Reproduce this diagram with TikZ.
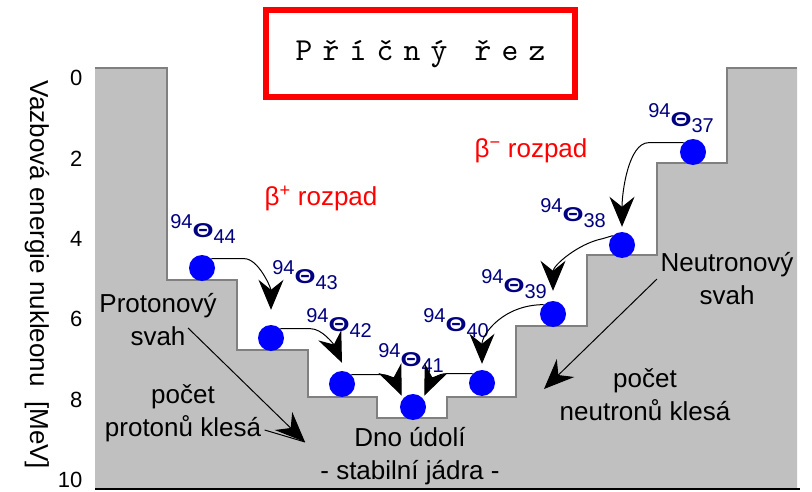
\documentclass[tikz,border=0pt]{standalone}
\usepackage{fontspec}
\usepackage{graphicx}
\usepackage{xcolor}
\usepackage{tikz}
\usetikzlibrary{arrows.meta,positioning}
\setmainfont{Liberation Sans}
\newfontfamily\titlefont{lmmono10-regular}[Extension=.otf,LetterSpace=32]
\definecolor{valley}{RGB}{192,192,192}
\definecolor{rim}{RGB}{128,128,128}
\definecolor{nucblue}{RGB}{0,0,128}
\newcommand{\nuclab}[1]{{\color{nucblue}\raisebox{9pt}{94}\scalebox{1.35}[1.0]{\textbf{Θ}}\raisebox{-6pt}{#1}}}

\begin{document}
\begin{tikzpicture}[x=1pt,y=-1pt,font=\fontsize{26}{33}\selectfont,
  atom/.style={circle,fill=blue,minimum size=26pt,inner sep=0pt},
  decay/.style={line width=1pt,-{Stealth[length=30pt,width=25pt,inset=10pt]}},
  iso/.style={font=\fontsize{20}{24}\selectfont,inner sep=0pt}]
\useasboundingbox (0,0) rectangle (812,492);
% valley cross-section
\fill[valley] (95,68) -- (167,68) -- (167,280) -- (237,280) -- (237,350) -- (308,350)
  -- (308,397) -- (377,397) -- (377,418) -- (447,418) -- (447,397) -- (516,397)
  -- (516,326) -- (587,326) -- (587,255) -- (657,255) -- (657,163) -- (727,163)
  -- (727,68) -- (797,68) -- (797,489) -- (95,489) -- cycle;
\draw[rim,line width=2pt] (95,68) -- (167,68) -- (167,280) -- (237,280) -- (237,350) -- (308,350)
  -- (308,397) -- (377,397) -- (377,418) -- (447,418) -- (447,397) -- (516,397)
  -- (516,326) -- (587,326) -- (587,255) -- (657,255) -- (657,163) -- (727,163)
  -- (727,68) -- (797,68);
\draw[line width=1.5pt] (95,489) -- (800,489);
% title
\node[draw=red,line width=6pt,minimum width=309pt,minimum height=87pt] (title) at (420.5,53.5)
  {\fontsize{32}{38}\selectfont\titlefont Příčný řez};
% energy axis
\foreach \e in {0,2,...,10}
  \node[anchor=east,font=\fontsize{22}{26}\selectfont] (e\e) at (86,{78+40.2*\e}) {\e};
\node[rotate=-90] (axis) at (37,275) {Vazbová energie nukleonu\ \ [MeV]};
% nuclei
\foreach \z/\x/\y in {44/202/268,43/271/338,42/342/384,41/413/407,40/482/383,39/553/314,38/622/245,37/693/152}
  \node[atom] (n\z) at (\x,\y) {};
\foreach \z/\x/\y in {44/203/229,43/305/275,42/339/323,41/411/358,40/456/323,39/514/284,38/573/213,37/681/118}
  \node[iso] (l\z) at (\x,\y) {\nuclab{\z}};
% decays
\node[text=red] (bplus) at (321,198) {β\textsuperscript{+} rozpad};
\node[text=red] (bminus) at (531,151) {β\textsuperscript{−} rozpad};
\draw[decay] (n44.north east) -- ++(33,0) .. controls +(14,0) and +(0,-22) .. ([yshift=15pt]n43.north);
\draw[decay] (n43.north east) -- ++(30,0) .. controls +(12,0) and +(-8,-18) .. ([yshift=8pt]n42.north);
\draw[decay] (n42.north east) -- ++(30,0) .. controls +(10,0) and +(-6,-14) .. ([shift={(-2pt,2pt)}]n41.north west);
\draw[decay] (n40.north west) -- ++(-26,0) .. controls +(-10,0) and +(6,-14) .. ([shift={(2pt,2pt)}]n41.north east);
\draw[decay] (n39.north west) .. controls +(-40,0) and +(0,-30) .. ([yshift=6pt]n40.north);
\draw[decay] (n38.north west) -- ++(-10,3) .. controls +(-25,5) and +(0,-25) .. ([yshift=10pt]n39.north);
\draw[decay] (n37.north west) -- ++(-35,0) .. controls +(-20,0) and +(0,-35) .. ([yshift=5pt]n38.north);
% slopes
\node[align=center] (psvah) at (158,320) {Protonový\\svah};
\node[align=center] (ppocet) at (183,413) {počet\\protonů klesá};
\node[align=center] (dno) at (410,456) {Dno údolí\\- stabilní jádra -};
\node[align=center] (nsvah) at (727,279) {Neutronový\\svah};
\node[align=center] (npocet) at (645,395) {počet\\neutronů klesá};
\coordinate (ptip) at (305,442);
\coordinate (ntip) at (544,389);
\draw[decay] ([xshift=-32pt,yshift=-8pt]psvah.east) -- (ptip);
\draw[line width=1pt] ([yshift=-17pt]ppocet.east) -- (ptip);
\draw[decay] (nsvah.west) -- (ntip);
\end{tikzpicture}
\end{document}
